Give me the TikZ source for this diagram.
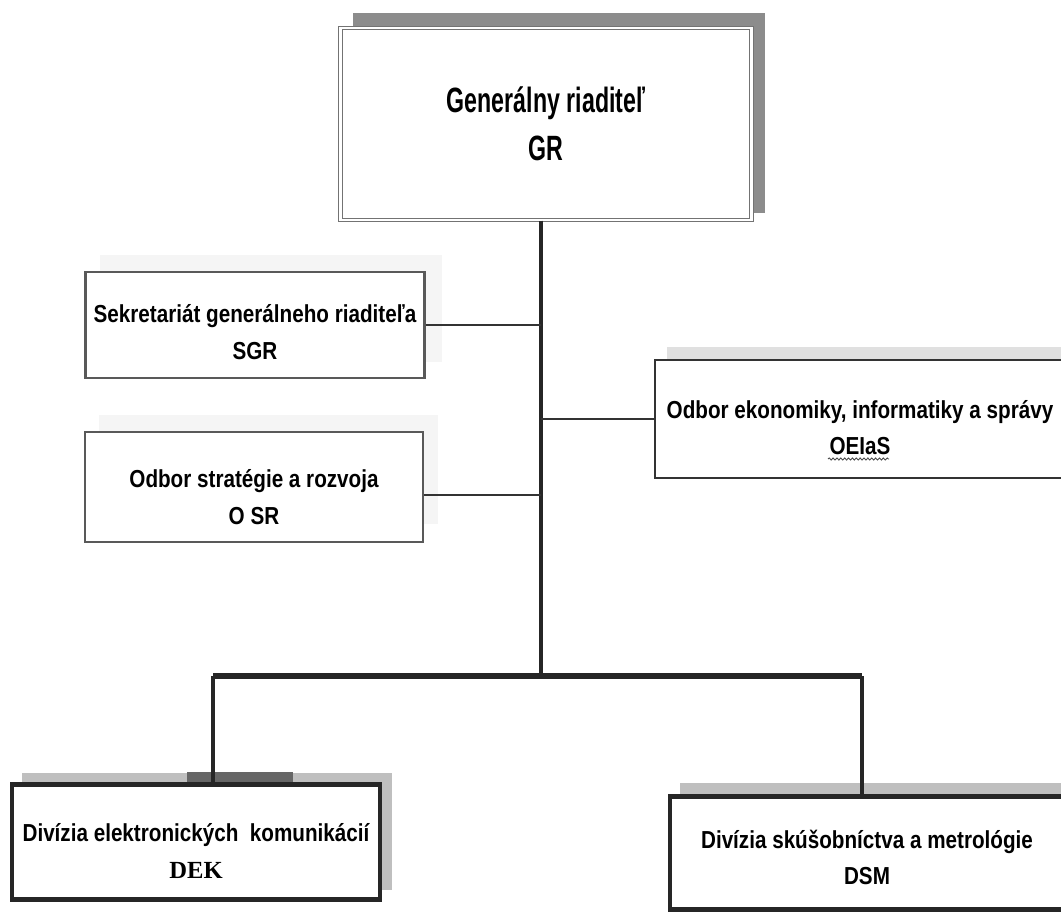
\documentclass[tikz,border=0pt]{standalone}
\usepackage{fontspec}
\usetikzlibrary{decorations.pathmorphing}
\setmainfont{Liberation Sans}
\newfontfamily\narrowfont{Liberation Sans}[FakeStretch=0.84]
\newfontfamily\grfont{Liberation Sans}[FakeStretch=0.66]
\newfontfamily\serifbold{Liberation Serif}
\newcommand\hdrop[1]{\rule{0pt}{#1}}

\begin{document}
\begin{tikzpicture}[x=0.02cm, y=-0.02cm,
  unit/.style={draw=black!65, line width=1.3pt, fill=white, align=center, inner sep=0pt,
    font=\narrowfont\bfseries\fontsize{14}{21}\selectfont},
  division/.style={unit, draw=black!85, line width=2.3pt},
  head/.style={draw=black!55, double, double distance=1.2pt, line width=.6pt, fill=white,
    align=center, font=\grfont\bfseries\fontsize{20}{27}\selectfont},
  shade/.style={fill=black!4},
  trunk/.style={line width=2.8pt, black!85},
  branch/.style={line width=1.1pt, black!80},
  squiggle/.style={black!70, line width=.5pt, decorate,
    decoration={snake, amplitude=.6pt, segment length=2.2pt}}]
\useasboundingbox (0,0) rectangle (1061,912);
\clip (0,0) rectangle (1061,912);

% shadows behind the boxes
\fill[black!45] (353,13) rectangle (765,213);
\fill[shade] (100,255) rectangle (442,362);
\fill[shade] (99,415) rectangle (438,524);
\fill[black!12] (667,347) rectangle (1070,465);
\fill[black!25] (22,773) rectangle (392,890);
\fill[black!25] (680,783) rectangle (1070,900);
\fill[black!60] (187,772) rectangle (293,785);

% boxes
\node[head, minimum width=8.22cm, minimum height=3.84cm] (GR) at (546,124) {Generálny riaditeľ\\GR};
\node[unit, minimum width=6.78cm, minimum height=2.12cm] (SGR) at (255,325) {\hdrop{18pt}Sekretariát generálneho riaditeľa\\SGR};
\node[unit, minimum width=6.76cm, minimum height=2.2cm] (OSR) at (254,487) {\hdrop{22pt}Odbor stratégie a rozvoja\\O SR};
\node[unit, draw=black!80, minimum width=8.2cm, minimum height=2.36cm] (OEIaS) at (860,419) {\hdrop{20pt}Odbor ekonomiky, informatiky a správy\\OEIaS};
\node[division, minimum width=7.36cm, minimum height=2.3cm] (DEK) at (196,842) {\hdrop{21pt}Divízia elektronických\ \ komunikácií\\{\serifbold\bfseries DEK}};
\node[division, minimum width=7.9cm, minimum height=2.26cm] (DSM) at (867,853) {\hdrop{15.5pt}Divízia skúšobníctva a metrológie\\DSM};

\coordinate (hub) at (541,676);
\coordinate (ldrop) at (213,676);
\coordinate (rdrop) at (862,676);

% lines
\draw[trunk] (GR.south -| hub) -- (hub);
\draw[trunk, line width=3.4pt] (ldrop) -- (rdrop);
\draw[trunk] (ldrop) -- (DEK.north -| ldrop);
\draw[trunk] (rdrop) -- (DSM.north -| rdrop);
\draw[branch] (SGR.east) -- (SGR.east -| hub);
\draw[branch] ([yshift=-8*0.02cm]OSR.east) -- ([yshift=-8*0.02cm]OSR.east -| hub);
\draw[branch] (OEIaS.west) -- (OEIaS.west -| hub);
\draw[squiggle] ([shift={(-32,40)}]OEIaS.center) -- ([shift={(29,40)}]OEIaS.center);
\end{tikzpicture}
\end{document}
